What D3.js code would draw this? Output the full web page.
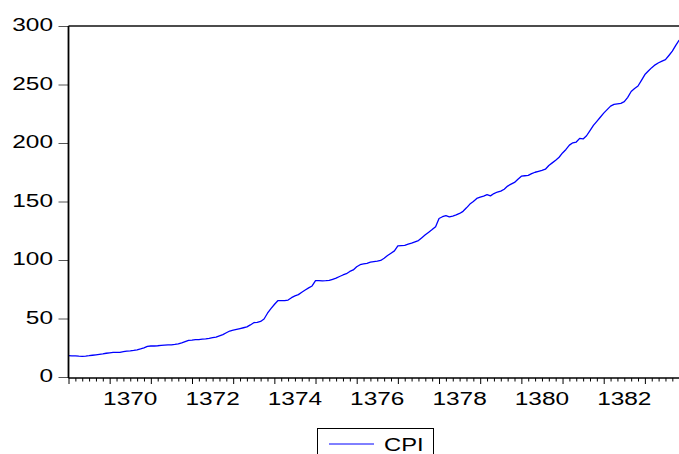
<!DOCTYPE html>
<html>
<head>
<meta charset="utf-8">
<script src="https://d3js.org/d3.v7.min.js"></script>
<style>
  body { margin: 0; background: #fff; }
  text { font-family: "Liberation Sans", Arial, sans-serif; fill: #000; }
</style>
</head>
<body>
<script>
// monthly CPI, first observation = first month of 1369
var startYear = 1369;
var cpi = [
  18.2, 18.1, 18.0, 17.8, 17.7, 17.9, 18.2, 18.6, 19.0, 19.4, 19.8, 20.3,
  20.7, 21.1, 21.1, 21.1, 21.7, 22.2, 22.4, 22.7, 23.2, 24.0, 24.9, 26.2,
  26.5, 26.5, 26.7, 27.0, 27.2, 27.4, 27.5, 27.8, 28.3, 29.2, 30.3, 31.3,
  31.5, 31.9, 32.0, 32.3, 32.5, 33.0, 33.6, 34.1, 35.2, 36.2, 37.8, 39.3,
  40.0, 40.7, 41.4, 42.1, 42.8, 44.5, 46.4, 46.7, 47.5, 49.6, 54.5, 58.5,
  62.0, 65.2, 65.3, 65.2, 65.8, 67.8, 69.3, 70.4, 72.5, 74.4, 76.2, 77.8,
  82.3, 82.3, 82.2, 82.3, 82.5, 83.5, 84.5, 85.9, 87.2, 88.3, 90.2, 91.5,
  94.2, 96.0, 96.6, 97.2, 98.2, 98.6, 99.0, 99.6, 101.5, 103.8, 105.8, 107.8,
  112.0, 112.3, 112.5, 113.5, 114.4, 115.5, 116.6, 119.0, 121.5, 123.7, 126.0, 128.5,
  135.5, 137.0, 137.9, 136.8, 137.6, 138.5, 139.8, 141.6, 144.6, 147.8, 150.0, 152.6,
  153.7, 154.6, 155.8, 154.8, 156.8, 158.1, 158.9, 160.5, 163.2, 164.8, 166.3, 169.0,
  171.6, 172.0, 172.3, 173.8, 175.0, 175.8, 176.6, 177.6, 180.8, 183.0, 185.3, 187.8,
  191.5, 194.5, 198.2, 200.2, 200.8, 204.0, 203.5, 206.2, 210.5, 215.0, 218.5, 222.0,
  225.5, 228.5, 231.5, 233.0, 233.5, 233.9, 235.3, 239.0, 244.0, 246.5, 248.7, 253.5,
  258.5, 261.5, 264.4, 266.8, 268.6, 270.0, 271.2, 274.8, 278.5, 283.5, 288.0
];
var yTicks = [0, 50, 100, 150, 200, 250, 300];
var yearLabels = [1370, 1372, 1374, 1376, 1378, 1380, 1382];
var seriesName = "CPI";

var svgWidth = 679;
var svgHeight = 454;
var plotLeft = 68.5;
var plotTop = 26;
var plotBottom = 378;
var pxPerYear = 41.17;
var stretch = 1.32; // text in the picture is wider than it is tall

var svg = d3.select("body")
            .append("svg")
            .attr("width", svgWidth)
            .attr("height", svgHeight);

var xScale = d3.scaleLinear()
               .domain([startYear, startYear + 15])
               .range([plotLeft, plotLeft + 15 * pxPerYear]);

var yScale = d3.scaleLinear()
               .domain([0, 300])
               .range([plotBottom - 1, plotTop]);

// tick marks on the time axis: every two months, longer at each year
var minor = d3.range(0, 15 * 6 + 1).map(function(k) { return startYear + k / 6; });
svg.append("g")
   .attr("transform", "translate(0," + plotBottom + ")")
   .call(d3.axisBottom(xScale).tickValues(minor).tickSize(3.5).tickFormat(""))
   .call(function(g) { g.select(".domain").remove(); })
   .selectAll(".tick line")
   .attr("stroke", "#000")
   .attr("y2", function(d) { return Math.abs(d - Math.round(d)) < 1e-6 ? 6 : 3.5; });

svg.selectAll(".xlabel")
   .data(yearLabels)
   .enter()
   .append("text")
   .attr("class", "xlabel")
   .attr("text-anchor", "middle")
   .attr("font-size", 18.5)
   .attr("transform", function(d) {
     return "translate(" + xScale(d + 0.5) + ",404.5) scale(" + stretch + ",1)";
   })
   .text(function(d) { return d; });

// value axis ticks and labels
svg.append("g")
   .attr("transform", "translate(" + plotLeft + ",0)")
   .call(d3.axisLeft(yScale).tickValues(yTicks).tickSize(10).tickFormat(""))
   .call(function(g) { g.select(".domain").remove(); })
   .selectAll(".tick line")
   .attr("stroke", "#555");

svg.selectAll(".ylabel")
   .data(yTicks)
   .enter()
   .append("text")
   .attr("class", "ylabel")
   .attr("text-anchor", "end")
   .attr("font-size", 18.5)
   .attr("transform", function(d) {
     return "translate(53," + (yScale(d) + 5) + ") scale(" + stretch + ",1)";
   })
   .text(function(d) { return d; });

// series line
var line = d3.line()
             .x(function(d, i) { return xScale(startYear + i / 12); })
             .y(function(d) { return yScale(d); });

svg.append("path")
   .datum(cpi)
   .attr("d", line)
   .attr("fill", "none")
   .attr("stroke", "#0000ff")
   .attr("stroke-width", 1.3)
   .attr("stroke-linejoin", "round");

// frame: top and left edges, bottom axis line
svg.append("line")
   .attr("x1", plotLeft).attr("x2", svgWidth)
   .attr("y1", plotTop).attr("y2", plotTop)
   .attr("stroke", "#111").attr("stroke-width", 1.5);
svg.append("line")
   .attr("x1", plotLeft).attr("x2", plotLeft)
   .attr("y1", plotTop).attr("y2", plotBottom)
   .attr("stroke", "#000").attr("stroke-width", 1.8);
svg.append("line")
   .attr("x1", plotLeft).attr("x2", svgWidth)
   .attr("y1", plotBottom).attr("y2", plotBottom)
   .attr("stroke", "#000").attr("stroke-width", 1.5);

// legend (box runs off the bottom of the picture)
var legend = svg.append("g").attr("class", "legend");
legend.append("rect")
      .attr("x", 317.5)
      .attr("y", 428.5)
      .attr("width", 116)
      .attr("height", 40)
      .attr("fill", "#fff")
      .attr("stroke", "#000")
      .attr("stroke-width", 1);
legend.append("line")
      .attr("x1", 329).attr("x2", 374)
      .attr("y1", 444).attr("y2", 444)
      .attr("stroke", "#0000ff").attr("stroke-width", 1);
legend.append("text")
      .attr("font-size", 18)
      .attr("transform", "translate(384,450.5) scale(" + stretch + ",1)")
      .text(seriesName);
</script>
</body>
</html>
